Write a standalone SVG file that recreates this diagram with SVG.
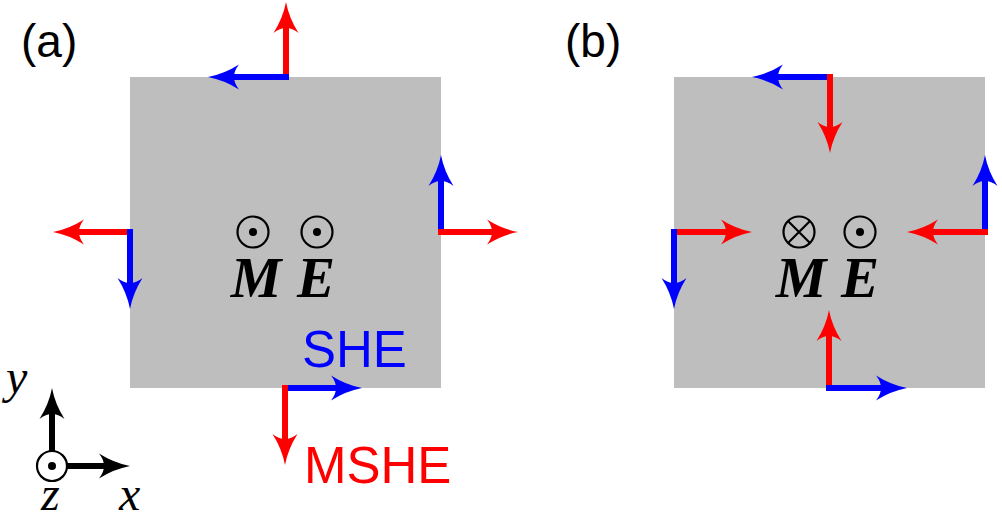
<svg xmlns="http://www.w3.org/2000/svg" width="1002" height="518" viewBox="0 0 1002 518">
<style>
.panel{fill:#bebebe}
.r{stroke:#ff0000;stroke-width:6;fill:none}
.b{stroke:#0000ff;stroke-width:6;fill:none}
.k{stroke:#000;stroke-width:6;fill:none}
.ring{fill:none;stroke:#000;stroke-width:2.2}
.sym{font-family:"Liberation Serif",serif;font-weight:bold;font-style:italic;font-size:57px;text-anchor:middle}
.lab{font-family:"Liberation Sans",Arial,sans-serif;font-size:46px}
.ax{font-family:"Liberation Serif",serif;font-style:italic;font-size:48px}
</style>
<defs>
<marker id="hr" markerUnits="userSpaceOnUse" refX="0" refY="0" markerWidth="40" markerHeight="30" orient="auto" overflow="visible"><path d="M20,0 Q4,-3 -11,-12.5 Q-1,0 -11,12.5 Q4,3 20,0Z" fill="#ff0000"/></marker>
<marker id="hb" markerUnits="userSpaceOnUse" refX="0" refY="0" markerWidth="40" markerHeight="30" orient="auto" overflow="visible"><path d="M20,0 Q4,-3 -11,-12.5 Q-1,0 -11,12.5 Q4,3 20,0Z" fill="#0000ff"/></marker>
<marker id="hk" markerUnits="userSpaceOnUse" refX="0" refY="0" markerWidth="40" markerHeight="30" orient="auto" overflow="visible"><path d="M20,0 Q4,-3 -11,-12.5 Q-1,0 -11,12.5 Q4,3 20,0Z" fill="#000"/></marker>
</defs>
<g id="panel-a"><rect class="panel" x="130" y="77" width="311" height="311"/></g>
<g id="panel-b"><rect class="panel" x="674" y="77" width="311" height="311"/></g>
<g id="connectors">
<line class="r" x1="286" y1="80" x2="286" y2="22" marker-end="url(#hr)"/>
<line class="b" x1="289" y1="77" x2="228" y2="77" marker-end="url(#hb)"/>
<line class="r" x1="133" y1="232" x2="73" y2="232" marker-end="url(#hr)"/>
<line class="b" x1="130" y1="229" x2="130" y2="289" marker-end="url(#hb)"/>
<line class="b" x1="441" y1="235" x2="441" y2="175" marker-end="url(#hb)"/>
<line class="r" x1="438" y1="232" x2="498" y2="232" marker-end="url(#hr)"/>
<line class="b" x1="282" y1="388" x2="342" y2="388" marker-end="url(#hb)"/>
<line class="r" x1="285" y1="385" x2="285" y2="445" marker-end="url(#hr)"/>
<line class="b" x1="833" y1="77" x2="772" y2="77" marker-end="url(#hb)"/>
<line class="r" x1="830" y1="74" x2="830" y2="133" marker-end="url(#hr)"/>
<line class="r" x1="671" y1="232" x2="732" y2="232" marker-end="url(#hr)"/>
<line class="b" x1="674" y1="229" x2="674" y2="289" marker-end="url(#hb)"/>
<line class="b" x1="985" y1="235" x2="985" y2="175" marker-end="url(#hb)"/>
<line class="r" x1="988" y1="232" x2="927" y2="232" marker-end="url(#hr)"/>
<line class="r" x1="829" y1="391" x2="829" y2="330" marker-end="url(#hr)"/>
<line class="b" x1="826" y1="388" x2="887" y2="388" marker-end="url(#hb)"/>
<line class="k" x1="52" y1="451" x2="52" y2="408" marker-end="url(#hk)"/>
<line class="k" x1="67" y1="466" x2="110" y2="466" marker-end="url(#hk)"/>
</g>
<g id="symbols-a">
<circle class="ring" cx="253" cy="232" r="15.5"/><circle cx="253" cy="232" r="4"/>
<circle class="ring" cx="317" cy="232" r="15.5"/><circle cx="317" cy="232" r="4"/>
<text class="sym" x="256" y="297">M</text>
<text class="sym" x="316" y="297">E</text>
</g>
<g id="symbols-b">
<circle class="ring" cx="799" cy="232" r="15.5"/>
<path class="ring" d="M788,221 L810,243 M810,221 L788,243"/>
<circle class="ring" cx="860" cy="232" r="15.5"/><circle cx="860" cy="232" r="4"/>
<text class="sym" x="801" y="297">M</text>
<text class="sym" x="860" y="297">E</text>
</g>
<g id="axes">
<circle class="ring" cx="52" cy="466" r="15"/><circle cx="52" cy="466" r="4"/>
<text class="ax" x="6" y="393">y</text>
<text class="ax" x="41" y="510">z</text>
<text class="ax" x="119" y="510">x</text>
</g>
<g id="labels">
<text class="lab" x="21" y="57">(a)</text>
<text class="lab" x="565" y="57">(b)</text>
<text class="lab" x="302" y="367" fill="#0000ff" style="font-size:51px">SHE</text>
<text class="lab" x="304" y="483" fill="#ff0000" style="font-size:51px">MSHE</text>
</g>
</svg>
